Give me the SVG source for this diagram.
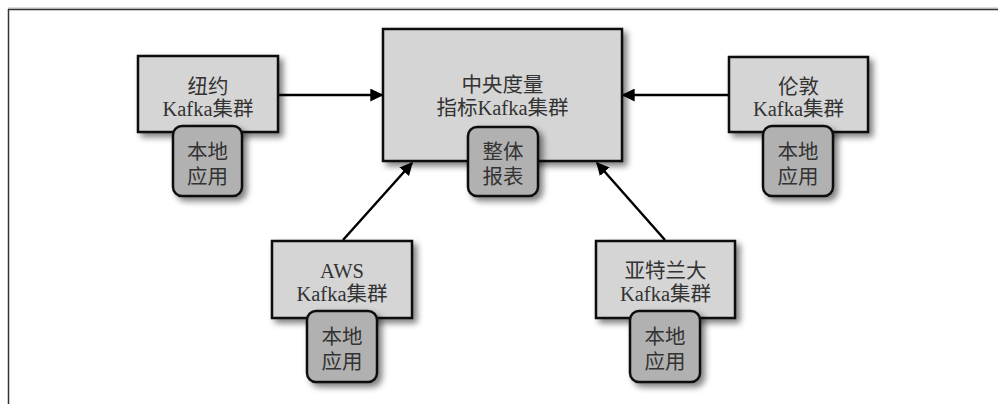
<svg xmlns="http://www.w3.org/2000/svg" width="998" height="404" viewBox="0 0 998 404">
<style>
.big{fill:#d5d5d5;stroke:#111;stroke-width:2.5}
.small{fill:#b1b1b1;stroke:#111;stroke-width:2.5}
.t{font-family:"Liberation Serif","Noto Sans CJK SC",serif;font-size:20.5px;fill:#333;text-anchor:middle}
.c{stroke:#000;stroke-width:2.5;fill:none;marker-end:url(#ah)}
</style>
<defs>
<filter id="sh" x="-20%" y="-20%" width="150%" height="150%">
<feGaussianBlur in="SourceAlpha" stdDeviation="3"/>
<feOffset dx="4" dy="4" result="b"/>
<feComponentTransfer><feFuncA type="linear" slope="0.5"/></feComponentTransfer>
<feMerge><feMergeNode/><feMergeNode in="SourceGraphic"/></feMerge>
</filter>
<marker id="ah" viewBox="0 0 10 10" refX="9" refY="5" markerWidth="5.2" markerHeight="5.2" markerUnits="strokeWidth" orient="auto">
<path d="M0,0 L10,5 L0,10 z" fill="#000"/>
</marker>
</defs>
<rect width="998" height="404" fill="#fff"/>
<line x1="8" y1="8" x2="998" y2="8" stroke="#bbb" stroke-width="1"/>
<line x1="8" y1="9.5" x2="998" y2="9.5" stroke="#333" stroke-width="1.5"/>
<line x1="8.5" y1="9" x2="8.5" y2="404" stroke="#333" stroke-width="1.5"/>

<g id="connectors">
<line class="c" x1="278" y1="95" x2="382" y2="95"/>
<line class="c" x1="729" y1="95" x2="623" y2="95"/>
<line class="c" x1="343" y1="240" x2="412" y2="163"/>
<line class="c" x1="665" y1="240" x2="597" y2="163"/>
</g>

<g id="center">
<rect class="big" x="383" y="29" width="239" height="132" filter="url(#sh)"/>
<text class="t" x="502.5" y="92">中央度量</text>
<text class="t" x="502.5" y="115">指标Kafka集群</text>
</g>
<g id="center-report">
<rect class="small" x="468" y="127" width="70" height="69" rx="9" filter="url(#sh)"/>
<text class="t" x="503" y="159">整体</text>
<text class="t" x="503" y="184">报表</text>
</g>

<g id="newyork">
<rect class="big" x="138" y="56" width="140" height="76" filter="url(#sh)"/>
<text class="t" x="208" y="94">纽约</text>
<text class="t" x="208" y="116">Kafka集群</text>
</g>
<g id="newyork-app">
<rect class="small" x="173" y="126" width="69" height="70" rx="9" filter="url(#sh)"/>
<text class="t" x="207.5" y="159">本地</text>
<text class="t" x="207.5" y="184">应用</text>
</g>

<g id="london">
<rect class="big" x="729" y="57" width="139" height="75" filter="url(#sh)"/>
<text class="t" x="798.5" y="94">伦敦</text>
<text class="t" x="798.5" y="116">Kafka集群</text>
</g>
<g id="london-app">
<rect class="small" x="763" y="126" width="70" height="70" rx="9" filter="url(#sh)"/>
<text class="t" x="798" y="159">本地</text>
<text class="t" x="798" y="184">应用</text>
</g>

<g id="aws">
<rect class="big" x="272" y="241" width="140" height="77" filter="url(#sh)"/>
<text class="t" x="342" y="278">AWS</text>
<text class="t" x="342" y="301">Kafka集群</text>
</g>
<g id="aws-app">
<rect class="small" x="307" y="311" width="70" height="71" rx="9" filter="url(#sh)"/>
<text class="t" x="342" y="344">本地</text>
<text class="t" x="342" y="369">应用</text>
</g>

<g id="atlanta">
<rect class="big" x="596" y="241" width="139" height="77" filter="url(#sh)"/>
<text class="t" x="665.5" y="278">亚特兰大</text>
<text class="t" x="665.5" y="301">Kafka集群</text>
</g>
<g id="atlanta-app">
<rect class="small" x="630" y="311" width="70" height="71" rx="9" filter="url(#sh)"/>
<text class="t" x="665" y="344">本地</text>
<text class="t" x="665" y="369">应用</text>
</g>
</svg>
